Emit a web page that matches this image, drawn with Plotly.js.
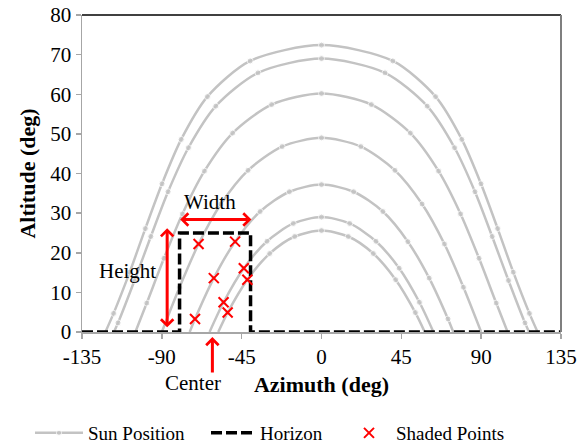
<!DOCTYPE html>
<html>
<head>
<meta charset="utf-8">
<script src="https://cdn.plot.ly/plotly-3.0.1.min.js"></script>
<style>
  html, body { margin: 0; padding: 0; background: #fff; }
  #chart { width: 577px; height: 445px; }
</style>
</head>
<body>
<div id="chart"></div>
<script>
// Sun paths (azimuth deg, altitude deg), hourly points from sunrise to sunset
const sunAz1 = [-121.8, -117.2, -108.1, -99.3, -89.9, -79.1, -64.3, -40.2, 0, 40.2, 64.3, 79.1, 89.9, 99.3, 108.1, 117.2, 121.8];
const sunAlt1 = [0, 4.7, 15.1, 26.1, 37.4, 48.6, 59.4, 68.4, 72.4, 68.4, 59.4, 48.6, 37.4, 26.1, 15.1, 4.7, 0];
const sunAz2 = [-117.0, -114.7, -105.4, -96.2, -86.5, -75.0, -59.6, -35.8, 0, 35.8, 59.6, 75.0, 86.5, 96.2, 105.4, 114.7, 117.0];
const sunAlt2 = [0, 2.3, 13.0, 24.1, 35.4, 46.5, 57.0, 65.4, 69.0, 65.4, 57.0, 46.5, 35.4, 24.1, 13.0, 2.3, 0];
const sunAz3 = [-104.9, -98.5, -88.8, -78.4, -66.0, -50.1, -28.1, 0, 28.1, 50.1, 66.0, 78.4, 88.8, 98.5, 104.9];
const sunAlt3 = [0, 7.3, 18.6, 29.8, 40.6, 50.2, 57.4, 60.2, 57.4, 50.2, 40.6, 29.8, 18.6, 7.3, 0];
const sunAz4 = [-90.0, -80.0, -69.3, -56.7, -41.4, -22.2, 0, 22.2, 41.4, 56.7, 69.3, 80.0, 90.0];
const sunAlt4 = [0, 11.3, 22.2, 32.3, 40.8, 46.8, 49.0, 46.8, 40.8, 32.3, 22.2, 11.3, 0];
const sunAz5 = [-74.3, -71.3, -60.7, -48.7, -34.6, -18.1, 0, 18.1, 34.6, 48.7, 60.7, 71.3, 74.3];
const sunAlt5 = [0, 3.3, 13.6, 22.8, 30.4, 35.4, 37.2, 35.4, 30.4, 22.8, 13.6, 3.3, 0];
const sunAz6 = [-63.1, -55.2, -43.8, -30.7, -15.9, 0, 15.9, 30.7, 43.8, 55.2, 63.1];
const sunAlt6 = [0, 7.5, 16.1, 22.9, 27.4, 29.0, 27.4, 22.9, 16.1, 7.5, 0];
const sunAz7 = [-58.2, -52.9, -41.8, -29.2, -15.1, 0, 15.1, 29.2, 41.8, 52.9, 58.2];
const sunAlt7 = [0, 4.9, 13.2, 19.8, 24.1, 25.6, 24.1, 19.8, 13.2, 4.9, 0];

// Horizon profile (rectangular obstruction)
const horizonAz = [-135, -80, -80, -40, -40, 135];
const horizonAlt = [0, 0, 25, 25, 0, 0];

// Shaded sun points
const shadedAz = [-69.3, -48.7, -43.8, -41.8, -60.7, -55.2, -52.9, -71.3];
const shadedAlt = [22.2, 22.8, 16.1, 13.2, 13.6, 7.5, 4.9, 3.3];

// Axis ticks
const xTicks = [-135, -90, -45, 0, 45, 90, 135];
const yTicks = [0, 10, 20, 30, 40, 50, 60, 70, 80];

const sunAzList = [sunAz1, sunAz2, sunAz3, sunAz4, sunAz5, sunAz6, sunAz7];
const sunAltList = [sunAlt1, sunAlt2, sunAlt3, sunAlt4, sunAlt5, sunAlt6, sunAlt7];

const FONT = 'Liberation Serif';
const GRAY = '#c3c3c3';
const RED = '#ff0000';

const traces = [];
sunAzList.forEach((az, i) => {
  const alt = sunAltList[i];
  traces.push({
    x: az, y: alt,
    type: 'scatter', mode: 'lines+markers',
    name: 'Sun Position',
    legend: 'legend',
    legendgroup: 'sun',
    showlegend: i === 0,
    line: { color: GRAY, width: 2.5, shape: 'spline', smoothing: 0.8 },
    marker: { color: GRAY, size: alt.map(v => (v === 0 ? 0 : 6)) },
    hoverinfo: 'x+y'
  });
});
traces.push({
  x: horizonAz, y: horizonAlt,
  type: 'scatter', mode: 'lines',
  name: 'Horizon',
  legend: 'legend2',
  line: { color: '#000', width: 3.5, dash: '11px,4px' }
});
traces.push({
  x: shadedAz, y: shadedAlt,
  type: 'scatter', mode: 'markers',
  name: 'Shaded Points',
  legend: 'legend3',
  marker: { symbol: 'x-thin', size: 10, color: RED, line: { color: RED, width: 2 } },
  cliponaxis: false
});

function legendAt(left, w) {
  return {
    orientation: 'h',
    xref: 'container', yref: 'container',
    x: left / 577, xanchor: 'left',
    y: 0.027, yanchor: 'middle',
    font: { family: FONT, size: 19, color: '#000' },
    itemwidth: w,
    bgcolor: 'rgba(0,0,0,0)',
    borderwidth: 0
  };
}

const layout = {
  width: 577, height: 445,
  margin: { l: 82, r: 16, t: 15, b: 113 },
  paper_bgcolor: '#fff', plot_bgcolor: '#fff',
  font: { family: FONT, size: 21, color: '#000' },
  showlegend: true,
  legend: legendAt(30, 48),
  legend2: legendAt(206, 44),
  legend3: legendAt(342, 44),
  xaxis: {
    range: [-135, 135],
    tickvals: xTicks,
    ticktext: xTicks.map(String),
    showgrid: false, zeroline: false,
    showline: true, linecolor: '#a6a6a6', linewidth: 1.5,
    ticks: 'outside', ticklen: 5, tickcolor: '#a6a6a6', tickwidth: 1.5,
    tickfont: { family: FONT, size: 21, color: '#000' },
    title: { text: '<b>Azimuth (deg)</b>', font: { family: FONT, size: 22, color: '#000' }, standoff: 9 },
    fixedrange: true
  },
  yaxis: {
    range: [0, 80],
    tickvals: yTicks,
    ticktext: yTicks.map(String),
    showgrid: false, zeroline: false,
    showline: true, linecolor: '#a6a6a6', linewidth: 1.5,
    ticks: 'outside', ticklen: 5, tickcolor: '#a6a6a6', tickwidth: 1.5,
    tickfont: { family: FONT, size: 21, color: '#000' },
    title: { text: '<b>Altitude (deg)</b>', font: { family: FONT, size: 22, color: '#000' }, standoff: 8 },
    fixedrange: true
  },
  shapes: [
    { type: 'line', xref: 'paper', yref: 'paper', x0: 0, x1: 1, y0: 1, y1: 1, line: { color: '#000', width: 1.5 } },
    { type: 'line', xref: 'paper', yref: 'paper', x0: 1, x1: 1, y0: 0, y1: 1, line: { color: '#7f7f7f', width: 2 } }
  ],
  annotations: [
    // Width double arrow
    { x: -39.5, y: 28.4, ax: -80.5, ay: 28.4, xref: 'x', yref: 'y', axref: 'x', ayref: 'y',
      text: '', showarrow: true, arrowhead: 4, startarrowhead: 4, arrowside: 'end+start',
      arrowwidth: 3, arrowsize: 0.8, startarrowsize: 0.8, arrowcolor: RED, standoff: 0, startstandoff: 0 },
    { x: -62.8, y: 32.8, xref: 'x', yref: 'y', xanchor: 'center', yanchor: 'middle', text: 'Width', showarrow: false,
      font: { family: FONT, size: 21, color: '#000' } },
    // Height double arrow
    { x: -87, y: 26.2, ax: -87, ay: 0.8, xref: 'x', yref: 'y', axref: 'x', ayref: 'y',
      text: '', showarrow: true, arrowhead: 4, startarrowhead: 4, arrowside: 'end+start',
      arrowwidth: 3, arrowsize: 0.8, startarrowsize: 0.8, arrowcolor: RED, standoff: 0, startstandoff: 0 },
    { x: -109.2, y: 15.4, xref: 'x', yref: 'y', xanchor: 'center', yanchor: 'middle', text: 'Height', showarrow: false,
      font: { family: FONT, size: 21, color: '#000' } },
    // Center arrow
    { x: -61.5, y: -0.016, xref: 'x', yref: 'paper', ax: 0, ay: 37,
      text: '', showarrow: true, arrowhead: 4, arrowwidth: 3, arrowsize: 0.8, arrowcolor: RED, standoff: 0 },
    { x: -72.4, y: -0.162, xref: 'x', yref: 'paper', xanchor: 'center', yanchor: 'middle', text: 'Center', showarrow: false,
      font: { family: FONT, size: 21, color: '#000' } }
  ]
};

Plotly.newPlot('chart', traces, layout, { displayModeBar: false, staticPlot: true });
</script>
</body>
</html>
